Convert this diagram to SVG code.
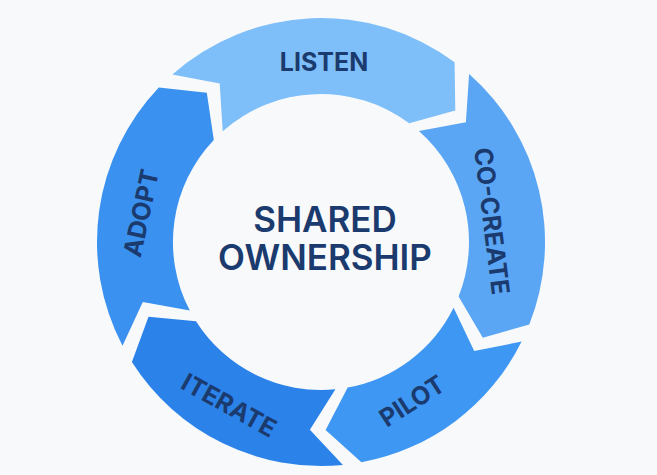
<svg xmlns="http://www.w3.org/2000/svg" width="657" height="475" viewBox="0 0 657 475">
<style>
.lbl{font-family:Inter,"Liberation Sans","DejaVu Sans",sans-serif;font-weight:700;font-size:25px;fill:#1b3a6e;text-anchor:middle}
.ctr{font-family:Inter,"Liberation Sans","DejaVu Sans",sans-serif;font-weight:600;font-size:35px;fill:#1b3a6e;text-anchor:middle}
</style>
<rect width="657" height="475" fill="#f8f9fb"/>
<g id="listen">
<path fill="#7fbff9" d="M172.3,74.5 A224,224 0 0 1 454.6,62.2 L455.3,110.5 L409.2,123.2 A148,148 0 0 0 222.7,131.3 L219.7,83.6 Z"/>
<text class="lbl" x="324" y="71">LISTEN</text>
</g>
<g id="co-create">
<path fill="#5aa6f5" d="M469.1,74.0 A224,224 0 0 1 529.3,324.5 L482.8,337.7 L458.6,296.5 A148,148 0 0 0 418.9,131.0 L465.9,122.2 Z"/>
<text class="lbl" transform="translate(492,221) rotate(83)" x="0" y="9">CO-CREATE</text>
</g>
<g id="pilot">
<path fill="#3e97f2" d="M521.6,341.6 A224,224 0 0 1 361.4,462.3 L325.6,429.9 L347.7,387.6 A148,148 0 0 0 453.6,307.8 L474.2,350.9 Z"/>
<text class="lbl" transform="translate(412,401) rotate(-33)" x="0" y="9">PILOT</text>
</g>
<g id="iterate">
<path fill="#2b83ea" d="M342.9,464.9 A224,224 0 0 1 131.9,362.0 L148.5,316.7 L196.0,321.3 A148,148 0 0 0 335.4,389.3 L309.9,429.7 Z"/>
<text class="lbl" transform="translate(229,405) rotate(29)" x="0" y="9">ITERATE</text>
</g>
<g id="adopt">
<path fill="#3a91f0" d="M122.5,345.8 A224,224 0 0 1 158.8,87.5 L206.8,92.7 L213.8,139.9 A148,148 0 0 0 189.8,310.6 L142.8,302.0 Z"/>
<text class="lbl" transform="translate(141,213) rotate(-78)" x="0" y="9">ADOPT</text>
</g>
<g id="shared-ownership">
<text class="ctr" x="325" y="232">SHARED</text>
<text class="ctr" x="325" y="270">OWNERSHIP</text>
</g>
</svg>
